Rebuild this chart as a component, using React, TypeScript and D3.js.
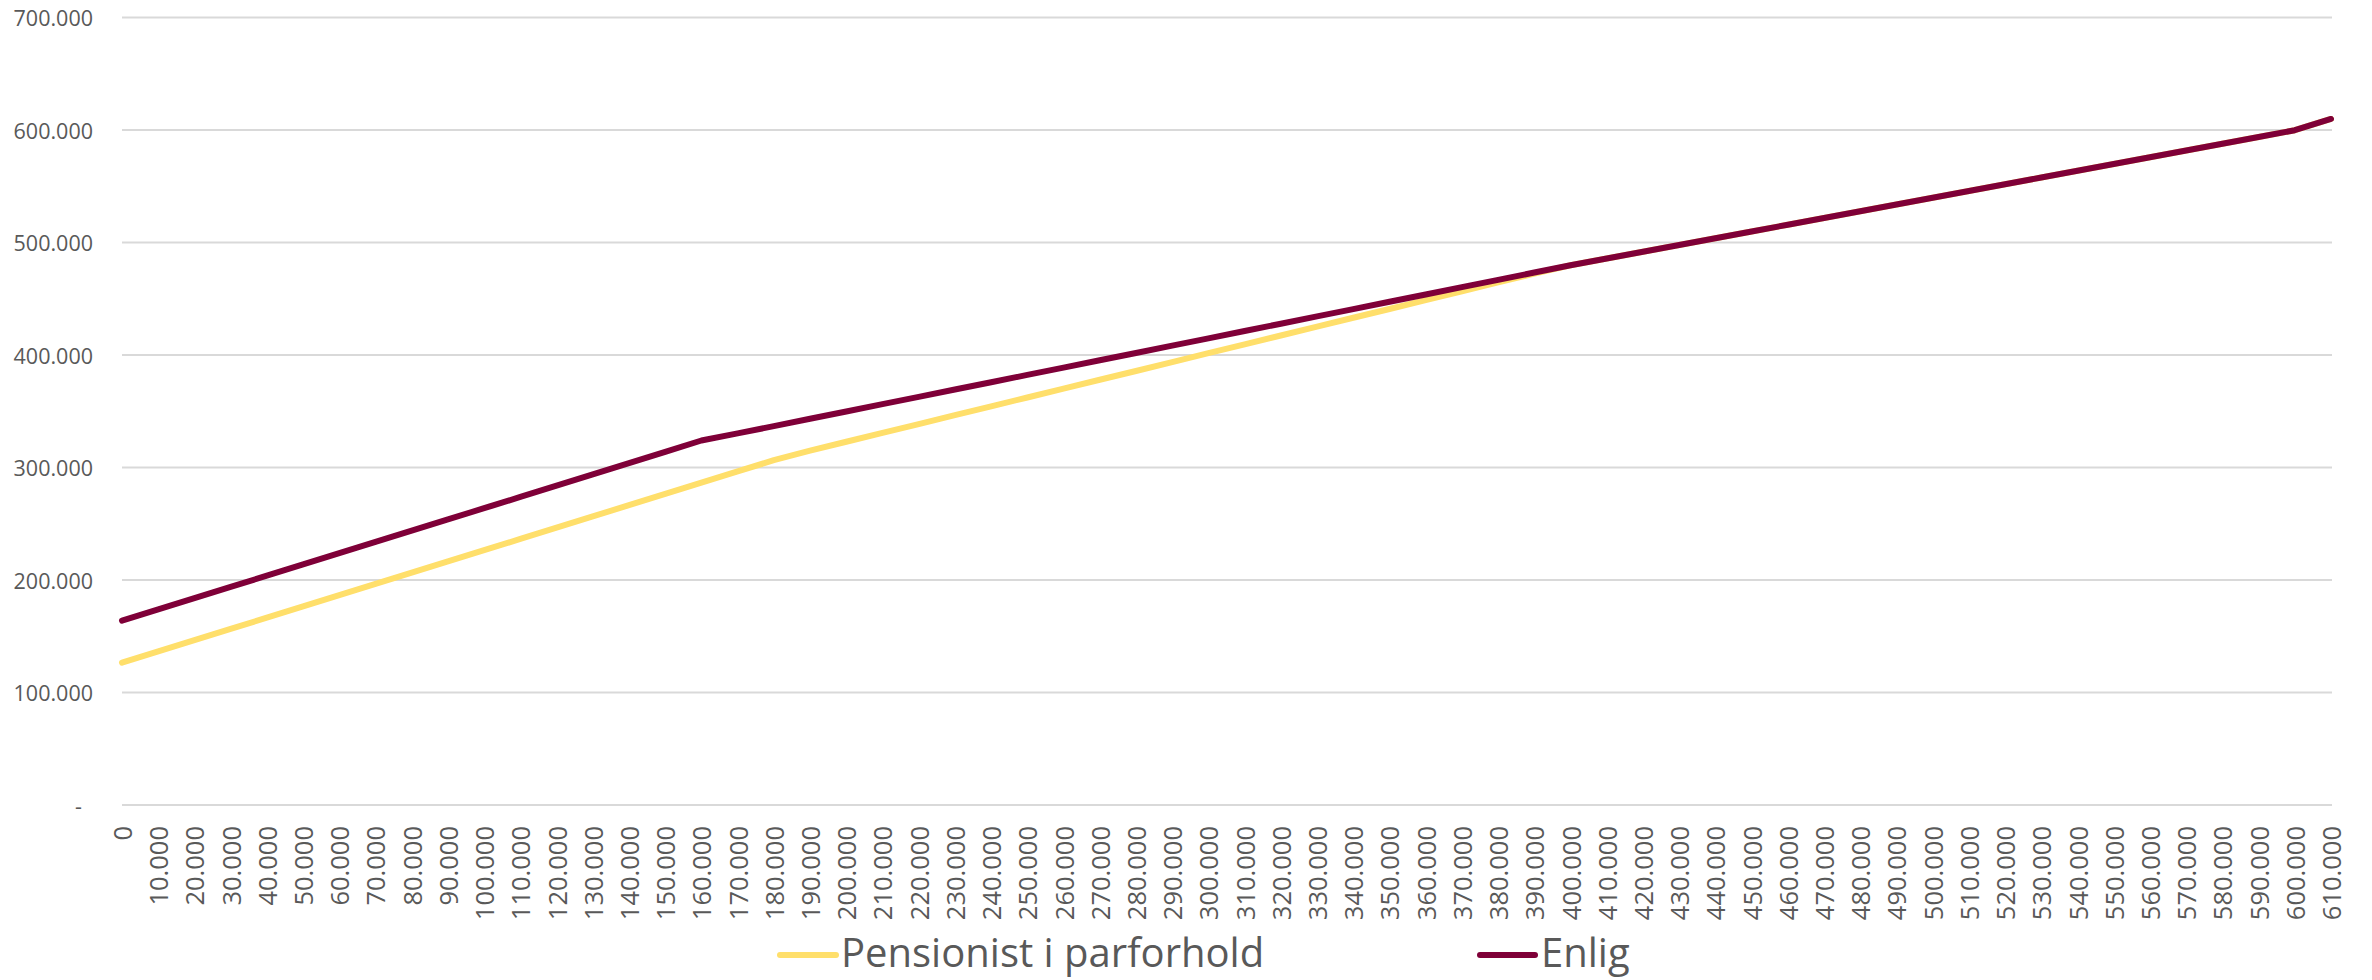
import React from "react";
import * as d3 from "d3";

// income on the x axis (kr.)
const incomes = [
  0, 10000, 20000, 30000, 40000, 50000, 60000, 70000, 80000, 90000,
  100000, 110000, 120000, 130000, 140000, 150000, 160000, 170000, 180000, 190000,
  200000, 210000, 220000, 230000, 240000, 250000, 260000, 270000, 280000, 290000,
  300000, 310000, 320000, 330000, 340000, 350000, 360000, 370000, 380000, 390000,
  400000, 410000, 420000, 430000, 440000, 450000, 460000, 470000, 480000, 490000,
  500000, 510000, 520000, 530000, 540000, 550000, 560000, 570000, 580000, 590000,
  600000, 610000,
];

// Pensionist i parforhold
const parforhold = [
  126500, 136500, 146500, 156500, 166500, 176500, 186500, 196500, 206500, 216500,
  226500, 236500, 246500, 256500, 266500, 276500, 286500, 296500, 306500, 315000,
  322900, 330800, 338600, 346500, 354400, 362200, 370100, 378000, 385800, 393700,
  401600, 409500, 417300, 425200, 433100, 440900, 448800, 456700, 464500, 472400,
  479800, 485800, 491800, 497800, 503800, 509800, 515800, 521800, 527800, 533800,
  539800, 545800, 551800, 557800, 563800, 569800, 575800, 581800, 587800, 593800,
  599800, 609800,
];

// Enlig
const enlig = [
  163800, 173800, 183800, 193800, 203800, 213800, 223800, 233800, 243800, 253800,
  263800, 273800, 283800, 293800, 303800, 313800, 324000, 330300, 336800, 343300,
  349800, 356300, 362800, 369300, 375800, 382300, 388800, 395300, 401800, 408300,
  414800, 421300, 427800, 434300, 440800, 447300, 453800, 460300, 466800, 473300,
  479800, 485800, 491800, 497800, 503800, 509800, 515800, 521800, 527800, 533800,
  539800, 545800, 551800, 557800, 563800, 569800, 575800, 581800, 587800, 593800,
  599800, 609800,
];

const yTicks = [0, 100000, 200000, 300000, 400000, 500000, 600000, 700000];

const seriesNames = ["Pensionist i parforhold", "Enlig"];
const seriesColors = ["#FFDF6B", "#7F0038"];

const width = 2372;
const height = 980;
const textColor = "#595959";
const font = "'Open Sans', sans-serif";

const da = d3.formatLocale({
  decimal: ",",
  thousands: ".",
  grouping: [3],
  currency: ["", " kr."],
});
const fmt = da.format(",.0f");

const App = () => {
  const x = d3
    .scalePoint<number>()
    .domain(incomes)
    .range([122, 2331]);
  const y = d3.scaleLinear().domain([0, 700000]).range([805, 17.5]);

  const line = d3
    .line<number>()
    .x((_, i) => x(incomes[i]) as number)
    .y((d) => y(d));

  const series = [parforhold, enlig];

  return (
    <svg
      width={width}
      height={height}
      style={{ position: "absolute", left: 0, top: 0, background: "#fff" }}
    >
      {/* gridlines */}
      {yTicks.map((t) => (
        <line
          key={t}
          x1={122}
          x2={2332}
          y1={y(t)}
          y2={y(t)}
          stroke="#D9D9D9"
          strokeWidth={2}
        />
      ))}

      {/* y labels */}
      {yTicks.map((t) => (
        <text
          key={"l" + t}
          x={t === 0 ? 82 : 93}
          y={y(t)}
          textAnchor="end"
          dominantBaseline="central"
          fontFamily={font}
          fontSize={21.5}
          fill={textColor}
        >
          {t === 0 ? "-" : fmt(t)}
        </text>
      ))}

      {/* x labels */}
      {incomes.map((v) => (
        <text
          key={"x" + v}
          transform={`translate(${x(v)},826) rotate(-90)`}
          textAnchor="end"
          dominantBaseline="central"
          fontFamily={font}
          fontSize={25.5}
          fill={textColor}
        >
          {fmt(v)}
        </text>
      ))}

      {/* lines */}
      {series.map((s, i) => (
        <path
          key={seriesNames[i]}
          d={line(s) || ""}
          fill="none"
          stroke={seriesColors[i]}
          strokeWidth={6}
          strokeLinejoin="round"
          strokeLinecap="round"
        />
      ))}

      {/* legend */}
      <line x1={780} x2={836} y1={955} y2={955} stroke={seriesColors[0]} strokeWidth={6} strokeLinecap="round" />
      <text x={841} y={967} fontFamily={font} fontSize={40} fill={textColor}>
        {seriesNames[0]}
      </text>
      <line x1={1480} x2={1535} y1={955} y2={955} stroke={seriesColors[1]} strokeWidth={6} strokeLinecap="round" />
      <text x={1541} y={967} fontFamily={font} fontSize={40} fill={textColor}>
        {seriesNames[1]}
      </text>
    </svg>
  );
};

export default App;
